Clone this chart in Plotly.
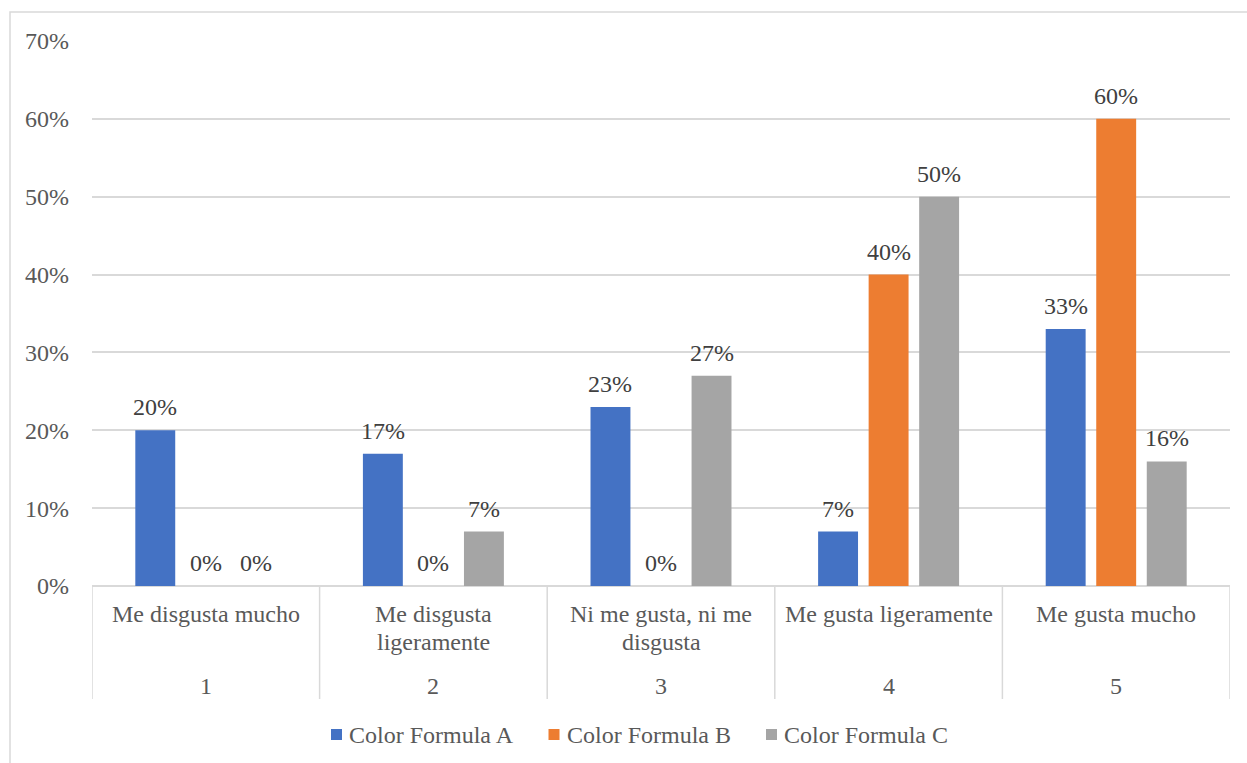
import plotly.graph_objects as go

# Survey categories (inner label + scale number)
categorias = ["Me disgusta mucho", "Me disgusta<br>ligeramente", "Ni me gusta, ni me<br>disgusta",
              "Me gusta ligeramente", "Me gusta mucho"]
escala = ["1", "2", "3", "4", "5"]

# Share of responses per formula (percent)
formula_a = [20, 17, 23, 7, 33]
formula_b = [0, 0, 0, 40, 60]
formula_c = [0, 7, 27, 50, 16]

series = [
    ("Color Formula A", formula_a, "#4472C4"),
    ("Color Formula B", formula_b, "#ED7D31"),
    ("Color Formula C", formula_c, "#A5A5A5"),
]

FONT = "Liberation Serif"
SIZE = 24
AXIS_GREY = "#595959"
LINE_GREY = "#D9D9D9"

W, H = 1247, 763
L, R, T, B = 92, 17, 41, 177
plot_w = W - L - R
plot_h = H - T - B

BARGAP = 0.334
slot = (1 - BARGAP) / len(series)


def px_to_paper_x(px):
    return (px - L) / plot_w


def px_to_paper_y(py):
    return (H - B - py) / plot_h


fig = go.Figure()
x_idx = list(range(len(categorias)))
annotations = []
shapes = []
for j, (name, vals, color) in enumerate(series):
    fig.add_trace(go.Bar(
        x=x_idx,
        y=[v / 100 for v in vals],
        name=name,
        marker=dict(color=color, line=dict(width=0)),
        showlegend=False,
    ))
    # value labels above each bar
    for i, v in enumerate(vals):
        annotations.append(dict(
            x=i + (j - (len(series) - 1) / 2) * slot, xref="x",
            y=v / 100, yref="y", yanchor="middle", yshift=23,
            text=f"{v}%", showarrow=False,
            font=dict(family=FONT, size=SIZE, color="#404040"),
        ))

    # legend entry: square swatch + label
    sx = 331 + j * 217.5
    shapes.append(dict(
        type="rect", xref="paper", yref="paper",
        x0=px_to_paper_x(sx), x1=px_to_paper_x(sx + 11),
        y0=px_to_paper_y(740), y1=px_to_paper_y(729),
        fillcolor=color, line=dict(width=0),
    ))
    annotations.append(dict(
        x=px_to_paper_x(sx + 16), xref="paper", xanchor="left",
        y=px_to_paper_y(735), yref="paper", yanchor="middle",
        text=name, showarrow=False,
        font=dict(family=FONT, size=SIZE, color=AXIS_GREY),
    ))

for i, (lab, num) in enumerate(zip(categorias, escala)):
    # each wrapped line placed separately for tighter line spacing
    for k, line in enumerate(lab.split("<br>")):
        annotations.append(dict(
            x=i, xref="x", y=0, yref="paper", yanchor="middle", yshift=-28 - 28 * k,
            text=line, showarrow=False, align="center",
            font=dict(family=FONT, size=SIZE, color=AXIS_GREY),
        ))
    annotations.append(dict(
        x=i, xref="x", y=0, yref="paper", yanchor="middle", yshift=-100,
        text=num, showarrow=False,
        font=dict(family=FONT, size=SIZE, color=AXIS_GREY),
    ))

# Category dividers under the axis
for k in range(len(categorias) + 1):
    shapes.append(dict(
        type="line", xref="x", yref="paper",
        x0=k - 0.5, x1=k - 0.5, y0=0, y1=px_to_paper_y(699),
        line=dict(color=LINE_GREY, width=1.5),
    ))

# Chart-area frame
shapes.append(dict(
    type="rect", xref="paper", yref="paper",
    x0=px_to_paper_x(10), x1=1.2,
    y0=-0.6, y1=px_to_paper_y(12),
    line=dict(color=LINE_GREY, width=1.5), fillcolor="rgba(0,0,0,0)", layer="below",
))

fig.update_layout(
    width=W, height=H,
    margin=dict(l=L, r=R, t=T, b=B, autoexpand=False),
    paper_bgcolor="white", plot_bgcolor="white",
    barmode="group", bargap=BARGAP, bargroupgap=0.21,
    font=dict(family=FONT, size=SIZE, color=AXIS_GREY),
    showlegend=False,
    annotations=annotations,
    shapes=shapes,
    xaxis=dict(
        range=[-0.5, len(categorias) - 0.5],
        showticklabels=False, showgrid=False, zeroline=False,
        showline=False, ticks="", fixedrange=True,
    ),
    yaxis=dict(
        range=[0, 0.7], dtick=0.1, tickformat=".0%",
        showgrid=True, gridcolor=LINE_GREY, gridwidth=1.5,
        zeroline=True, zerolinecolor=LINE_GREY, zerolinewidth=1.5,
        showline=False, ticks="", ticklabelstandoff=22,
        tickfont=dict(family=FONT, size=SIZE, color=AXIS_GREY),
        fixedrange=True,
    ),
)

fig.write_html("out.html")
